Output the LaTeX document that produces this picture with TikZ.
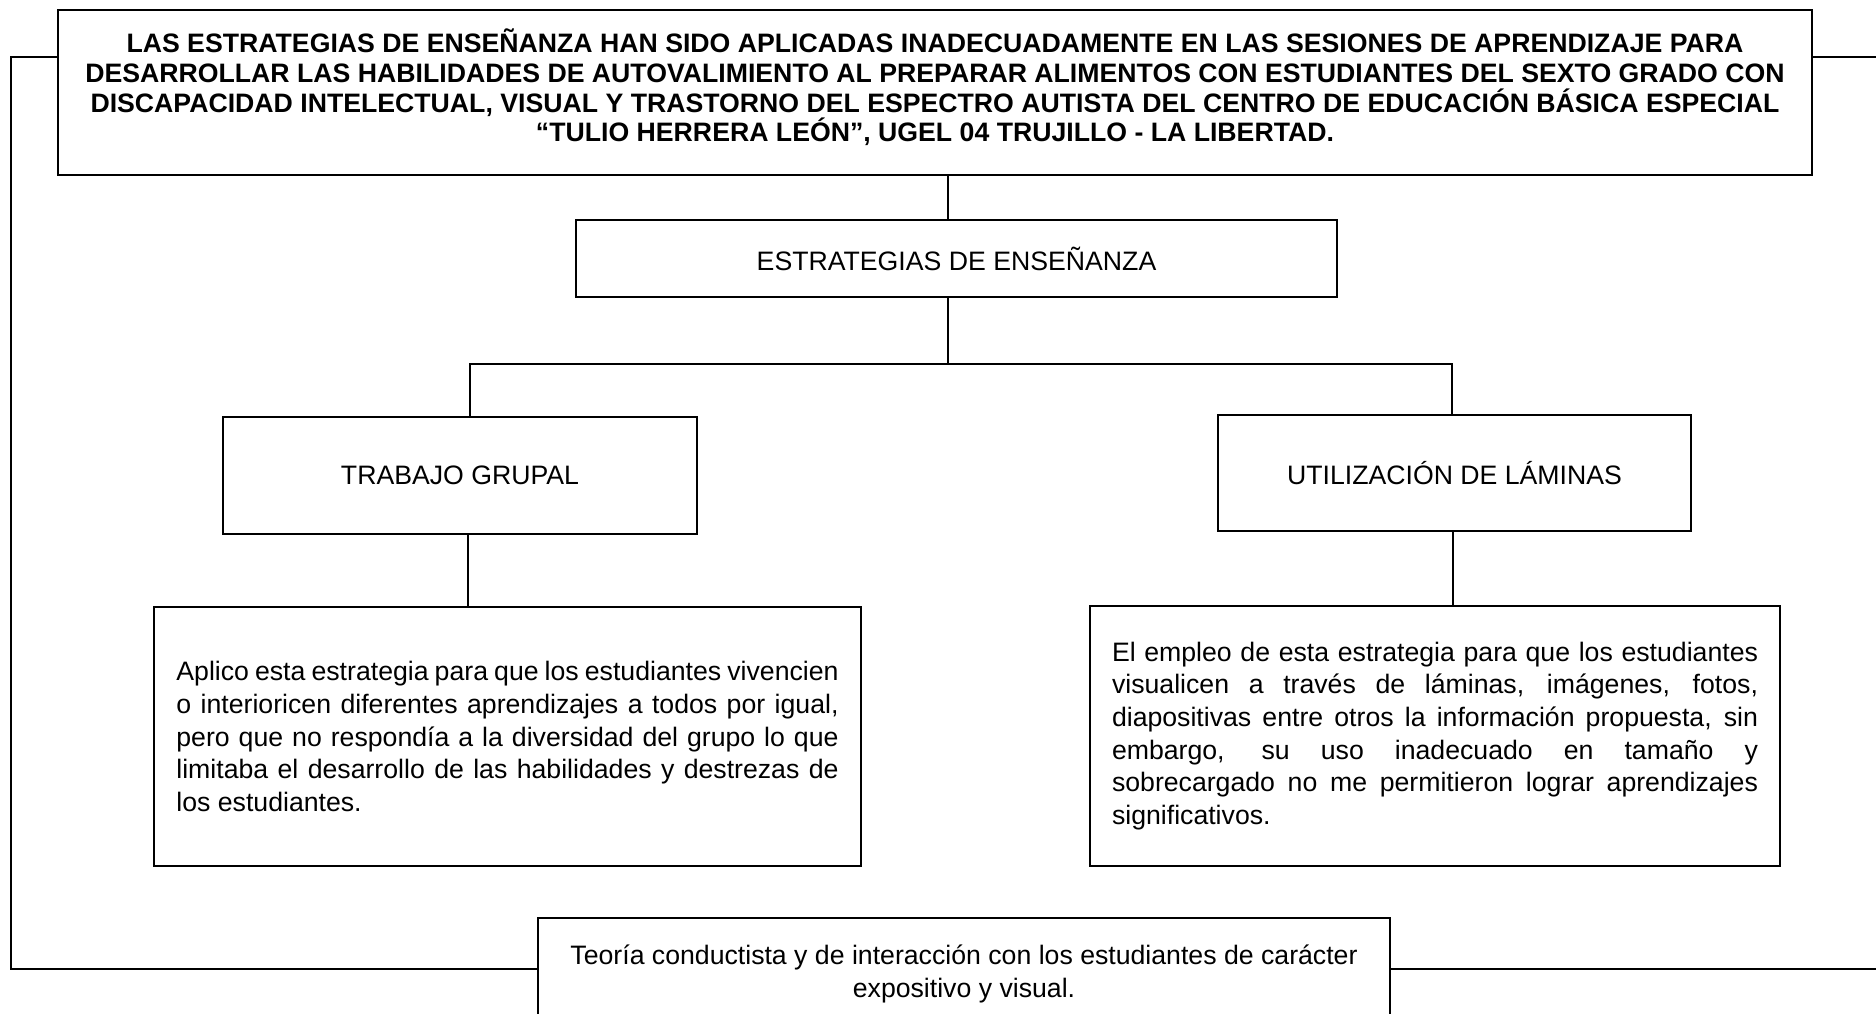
\documentclass[tikz,border=0pt]{standalone}
\usepackage{fontspec}
\setmainfont{Liberation Sans}
\usepackage{tikz}
\usetikzlibrary{calc}
\tikzset{caja/.style={draw, line width=1.3pt, inner sep=0pt, align=center, font=\fontsize{12}{14.7}\selectfont}}
\tikzset{parrafo/.style={caja, align=justify}}

\begin{document}
\begin{tikzpicture}[x=0.45pt,y=-0.45pt,line width=1.3pt]
\useasboundingbox (0,0) rectangle (1876,1014);

\node[caja, minimum width=789.3pt, minimum height=74.25pt] (titulo) at (935,92.5) {};
\node[align=center, inner sep=0pt, font=\bfseries\fontsize{12}{13.3}\selectfont] (tituloTexto) at ($(titulo.center)+(0,-5)$) {LAS ESTRATEGIAS DE ENSEÑANZA HAN SIDO APLICADAS INADECUADAMENTE EN LAS SESIONES DE APRENDIZAJE PARA\\ DESARROLLAR LAS HABILIDADES DE AUTOVALIMIENTO AL PREPARAR ALIMENTOS CON ESTUDIANTES DEL SEXTO GRADO CON\\ DISCAPACIDAD INTELECTUAL, VISUAL Y TRASTORNO DEL ESPECTRO AUTISTA DEL CENTRO DE EDUCACIÓN BÁSICA ESPECIAL\\ “TULIO HERRERA LEÓN”, UGEL 04 TRUJILLO - LA LIBERTAD.};

\node[caja, minimum width=342.45pt, minimum height=34.65pt] (estrategias) at (956.5,258.5) {ESTRATEGIAS DE ENSEÑANZA};

\node[caja, minimum width=213.3pt, minimum height=52.65pt] (trabajo) at (460,475.5) {TRABAJO GRUPAL};
\node[caja, minimum width=212.85pt, minimum height=52.2pt] (laminas) at (1454.5,473) {UTILIZACIÓN DE LÁMINAS};

\node[parrafo, minimum width=318.15pt, minimum height=116.55pt, text width=298pt] (aplico) at (507.5,736.5) {Aplico esta estrategia para que los estudiantes vivencien\linebreak o interioricen diferentes aprendizajes a todos por igual,\linebreak pero que no respondía a la diversidad del grupo lo que\linebreak limitaba el desarrollo de las habilidades y destrezas de\linebreak los estudiantes.};
\node[parrafo, minimum width=310.5pt, minimum height=117pt, text width=290.7pt] (empleo) at (1435,736) {El empleo de esta estrategia para que los estudiantes\linebreak visualicen a través de láminas, imágenes, fotos,\linebreak diapositivas entre otros la información propuesta, sin\linebreak embargo, su uso inadecuado en tamaño y\linebreak sobrecargado no me permitieron lograr aprendizajes\linebreak significativos.};

\node[caja, minimum width=383.4pt, minimum height=50.4pt] (teoria) at (964,974) {Teoría conductista y de interacción con los estudiantes de carácter\\ expositivo y visual.};

\coordinate (tronco) at (948,364);
\coordinate (ramaIzq) at (470,364);
\coordinate (ramaDer) at (1452,364);
\coordinate (bajaIzq) at (468,570);
\coordinate (bajaDer) at (1453,570);
\coordinate (izqArriba) at (11,57);
\coordinate (izqAbajo) at (11,969);
\coordinate (derArriba) at (1876,57);
\coordinate (derAbajo) at (1876,969);

\draw (titulo.south -| tronco) -- (estrategias.north -| tronco);
\draw (estrategias.south -| tronco) -- (tronco);
\draw (trabajo.north -| ramaIzq) -- (ramaIzq) -- (ramaDer) -- (laminas.north -| ramaDer);
\draw (trabajo.south -| bajaIzq) -- (aplico.north -| bajaIzq);
\draw (laminas.south -| bajaDer) -- (empleo.north -| bajaDer);

\draw (titulo.west |- izqArriba) -- (izqArriba) -- (izqAbajo) -- (teoria.west |- izqAbajo);
\draw (titulo.east |- derArriba) -- (derArriba);
\draw (teoria.east |- derAbajo) -- (derAbajo);

\end{tikzpicture}
\end{document}
